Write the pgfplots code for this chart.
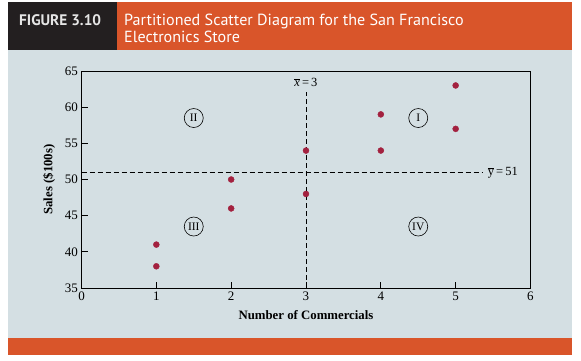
\documentclass[border=0pt]{standalone}
\usepackage{pgfplots}
\pgfplotsset{compat=1.18}
\usepackage{fontspec}
\setmainfont{Liberation Serif}
\newfontfamily\hdr{PT Sans}
\definecolor{panel}{HTML}{D4DFE3}
\definecolor{orng}{HTML}{D9552A}
\definecolor{dark}{HTML}{231F20}
\definecolor{mk}{HTML}{A3213F}
\begin{document}
\begin{tikzpicture}[x=1pt,y=1pt]
\fill[white] (0,0) rectangle (581,361);
\fill[panel] (8,6) rectangle (572,359);
\fill[dark] (8,311) rectangle (117,359);
\fill[orng] (117,311) rectangle (572,359);
\fill[orng] (8,6) rectangle (572,23);
\node[anchor=base west, inner sep=0pt, text=black!10] at (19,335) {\hdr\bfseries\fontsize{15.3}{17}\selectfont FIGURE 3.10};
\node[anchor=base west, inner sep=0pt, text=white] at (124,335) {\hdr\fontsize{16.1}{17}\selectfont Partitioned Scatter Diagram for the San Francisco};
\node[anchor=base west, inner sep=0pt, text=white] at (124,318) {\hdr\fontsize{16.1}{17}\selectfont Electronics Store};
\begin{axis}[
  at={(81.5pt,73pt)}, anchor=south west,
  scale only axis, width=449pt, height=217pt,
  xmin=0, xmax=6, ymin=35, ymax=65,
  xtick={0,1,...,6}, ytick={35,40,...,65},
  tick align=inside, xtick pos=bottom, ytick pos=left,
  major tick length=6pt,
  axis line style={black, line width=0.8pt},
  tick style={black, line width=0.8pt},
  tick label style={font=\fontsize{13}{13}\selectfont},
  /pgf/number format/assume math mode=true,
  xlabel={\textbf{Number of Commercials}},
  ylabel={\textbf{Sales (\$100s)}},
  label style={font=\fontsize{12.8}{13}\selectfont},
  xlabel style={at={(axis description cs:0.5,-0.125)}, anchor=center},
  ylabel style={at={(axis description cs:-0.072,0.5)}, anchor=center},
  clip=false,
]
\addplot[black, line width=0.8pt, dash pattern=on 5pt off 3pt] coordinates {(0,51) (5.36,51)};
\addplot[black, line width=0.8pt, dash pattern=on 5pt off 3pt] coordinates {(3,35) (3,62.1)};
\node at (axis cs:3,63.4) {\fontsize{12.5}{13}\selectfont $\overline{\mbox{\textit{x}}}$\,=\,3};
\node at (axis cs:5.63,51) {\fontsize{12.5}{13}\selectfont $\overline{\mbox{y}}$\,=\,51};
\addplot[only marks, mark=*, mark size=3pt, color=mk, mark options={draw=mk, fill=mk}] coordinates {
(2,50) (5,57) (1,41) (3,54) (4,54) (1,38) (5,63) (3,48) (4,59) (2,46)};
\node[circle, draw=black, line width=0.6pt, minimum size=19pt, inner sep=0pt] at (axis cs:1.5,58.5) {\fontsize{11.5}{12}\selectfont II};
\node[circle, draw=black, line width=0.6pt, minimum size=19pt, inner sep=0pt] at (axis cs:4.5,58.5) {\fontsize{11.5}{12}\selectfont I};
\node[circle, draw=black, line width=0.6pt, minimum size=19pt, inner sep=0pt] at (axis cs:1.5,43.5) {\fontsize{11.5}{12}\selectfont III};
\node[circle, draw=black, line width=0.6pt, minimum size=19pt, inner sep=0pt] at (axis cs:4.5,43.5) {\fontsize{11.5}{12}\selectfont IV};
\end{axis}
\end{tikzpicture}
\end{document}
